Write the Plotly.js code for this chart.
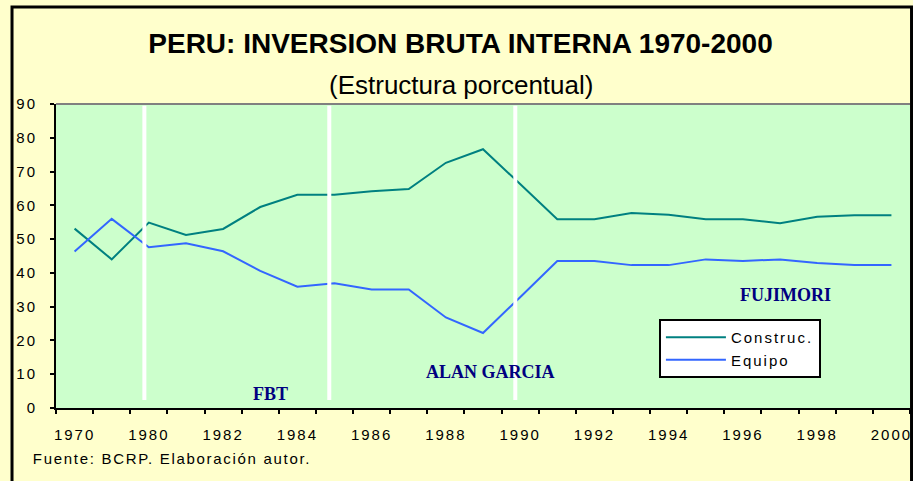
<!DOCTYPE html>
<html>
<head>
<meta charset="utf-8">
<script src="https://cdn.plot.ly/plotly-3.0.1.min.js"></script>
<style>
  html, body { margin: 0; padding: 0; background: #FFFFCC; }
  #chart { width: 913px; height: 481px; }
  .xtick text, .ytick text { letter-spacing: 2px; }
  .legendtext { letter-spacing: 2px; }
  g.annotation[data-index="4"] text { letter-spacing: 1.7px; }
</style>
</head>
<body>
<div id="chart"></div>
<script>
// ---- Data ----
var years = ['1970','1975','1980','1981','1982','1983','1984','1985','1986','1987','1988','1989',
             '1990','1991','1992','1993','1994','1995','1996','1997','1998','1999','2000'];
var tickLabels = ['1970','','1980','','1982','','1984','','1986','','1988','',
                  '1990','','1992','','1994','','1996','','1998','','2000'];
var construccion = [53.1, 44.0, 54.9, 51.2, 53.0, 59.5, 63.1, 63.1, 64.2, 64.8, 72.6, 76.6,
                    66.3, 55.9, 55.9, 57.7, 57.2, 55.9, 55.9, 54.7, 56.6, 57.1, 57.1];
var equipo = [46.3, 56.0, 47.6, 48.8, 46.4, 40.6, 35.9, 36.9, 35.1, 35.1, 26.8, 22.2,
              32.8, 43.5, 43.5, 42.3, 42.3, 44.0, 43.5, 44.0, 42.9, 42.3, 42.3];
var seriesNames = ['Construc.', 'Equipo'];
var periodLabels = ['FBT', 'ALAN GARCIA', 'FUJIMORI'];

// ---- Traces ----
var traces = [
  { x: years, y: construccion, name: seriesNames[0], type: 'scatter', mode: 'lines',
    line: { color: '#008080', width: 2 } },
  { x: years, y: equipo, name: seriesNames[1], type: 'scatter', mode: 'lines',
    line: { color: '#3366FF', width: 2 } }
];

// period separators (category-index positions)
var sepPos = [1.88, 6.86, 11.87];
var shapes = sepPos.map(function (p) {
  return { type: 'line', xref: 'x', yref: 'y', x0: p, x1: p, y0: 2.4, y1: 89.5,
           line: { color: '#FFFFFF', width: 4 }, layer: 'above' };
});
// gray top border of plot area
shapes.push({ type: 'line', xref: 'paper', yref: 'paper', x0: 0, x1: 1, y0: 1, y1: 1,
              line: { color: '#808080', width: 2 }, layer: 'above' });
// outer chart border
shapes.push({ type: 'rect', xref: 'paper', yref: 'paper', x0: -0.0515, x1: 1.0018, y0: -0.3, y1: 1.319,
              line: { color: '#000000', width: 3 }, fillcolor: 'rgba(0,0,0,0)', layer: 'above' });

var serif = { family: '"Liberation Serif", "Times New Roman", serif', size: 18, color: '#000080', weight: 'bold' };
var annotations = [
  { xref: 'x', yref: 'y', x: 5.29, y: 4.2, text: periodLabels[0], showarrow: false, font: serif },
  { xref: 'x', yref: 'y', x: 11.2, y: 10.7, text: periodLabels[1], showarrow: false, font: serif },
  { xref: 'x', yref: 'y', x: 19.16, y: 33.6, text: periodLabels[2], showarrow: false, font: serif },
  { xref: 'paper', yref: 'paper', x: 0.4742, y: 1.0625, xanchor: 'center', yanchor: 'middle',
    text: '(Estructura porcentual)', showarrow: false,
    font: { family: '"Liberation Sans", Arial, sans-serif', size: 26, color: '#000000' } },
  { xref: 'paper', yref: 'paper', x: 0.1364, y: -0.1645, xanchor: 'center', yanchor: 'middle',
    text: 'Fuente: BCRP. Elaboración autor.', showarrow: false,
    font: { family: '"Liberation Sans", Arial, sans-serif', size: 15, color: '#000000' } }
];

var layout = {
  width: 913, height: 481,
  paper_bgcolor: '#FFFFCC',
  plot_bgcolor: '#CCFFCC',
  margin: { l: 56, r: 3, t: 104, b: 73, pad: 0 },
  font: { family: '"Liberation Sans", Arial, sans-serif', size: 15, color: '#000000' },
  title: {
    text: '<b>PERU: INVERSION BRUTA INTERNA 1970-2000</b>',
    xref: 'container', yref: 'container', x: 0.5044, y: 0.9106,
    xanchor: 'center', yanchor: 'middle',
    font: { family: '"Liberation Sans", Arial, sans-serif', size: 28, color: '#000000' }
  },
  showlegend: true,
  legend: {
    x: 0.706, y: 0.2928, xanchor: 'left', yanchor: 'top',
    bgcolor: '#FFFFFF', bordercolor: '#000000', borderwidth: 2,
    itemwidth: 60,
    font: { family: '"Liberation Sans", Arial, sans-serif', size: 15, color: '#000000' }
  },
  xaxis: {
    type: 'category',
    categoryorder: 'array', categoryarray: years,
    range: [-0.5, 22.5],
    tickmode: 'array', tickvals: years, ticktext: tickLabels,
    tickson: 'boundaries',
    tickangle: 0,
    ticks: 'outside', ticklen: 4, tickwidth: 2, tickcolor: '#000000',
    showline: true, linecolor: '#000000', linewidth: 2,
    showgrid: false, zeroline: false,
    tickfont: { size: 15, color: '#000000' },
    ticklabelstandoff: 12,
    fixedrange: true
  },
  yaxis: {
    range: [0, 90], dtick: 10, tick0: 0,
    ticks: 'outside', ticklen: 4, tickwidth: 2, tickcolor: '#000000',
    showline: true, linecolor: '#000000', linewidth: 2,
    showgrid: false, zeroline: false,
    tickfont: { size: 15, color: '#000000' },
    ticklabelstandoff: 10,
    fixedrange: true
  },
  shapes: shapes,
  annotations: annotations
};

Plotly.newPlot('chart', traces, layout, { displayModeBar: false, staticPlot: true });
</script>
</body>
</html>
